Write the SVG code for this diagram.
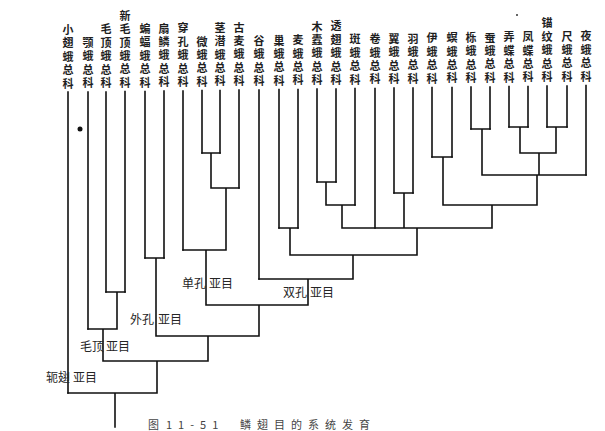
<svg xmlns="http://www.w3.org/2000/svg" width="605" height="431" viewBox="0 0 605 431">
<style>
.lf{font-family:"Noto Sans CJK SC","Noto Sans CJK TC",sans-serif;font-size:11px;font-weight:700;fill:#1e1e1e;text-anchor:middle}
.so{font-family:"Noto Sans CJK SC","Noto Sans CJK TC",sans-serif;font-size:12px;fill:#262626}
.cap{font-family:"Noto Sans CJK SC","Noto Sans CJK TC",sans-serif;font-size:11px;fill:#444}
.ln{fill:none;stroke:#111;stroke-width:1.6;stroke-linecap:square}
</style>
<rect width="605" height="431" fill="#fff"/>
<g id="connectors" class="ln">
<path d="M68 92V393M88 92V329M106 92V292M125 91.5V292M145 91.5V258M164 91V258M183 91V250M202 90.5V153M220 90.5V153M239 90V188M259 90V279M279 89.5V228M298 89.5V228M317 89V182M336 89V182M355 88.5V205M375 88.5V228M394 88V193M413 88V193M432 87.5V157M452 87.5V157M471 87V129M490 87V129M509 86.5V127M528 86.5V127M547 86V127M567 86V127M586 85.5V175"/>
<path d="M202 153H220M211 153V188M211 188H239M226 188V250M183 250H226M206 250V305M106 292H125M117 292V329M88 329H117M103 329V361M145 258H164M156 258V336M317 182H336M326 182V205M326 205H355M342 205V228M394 193H413M404 193V228M432 157H452M443 157V205M471 129H490M482 129V175M509 127H528M520 127V153M547 127H567M556 127V153M520 153H556M539 153V175M482 175H586M537 175V205M443 205H537M492 205V228M342 228H492M417 228V255M279 228H298M290 228V255M290 255H417M353 255V279M259 279H353M308 279V305M206 305H308M259 305V336M156 336H259M208 336V361M103 361H208M157 361V393M68 393H157M115 393V427"/>
</g>
<g id="n01"><text class="lf" x="68 68 68 68 68" y="33.9 47.3 60.7 74.1 87.5">小翅蛾总科</text></g>
<g id="n02"><text class="lf" x="88 88 88 88" y="47 60.4 73.8 87.2">颚蛾总科</text></g>
<g id="n03"><text class="lf" x="106 106 106 106 106" y="33.4 46.8 60.2 73.6 87">毛顶蛾总科</text></g>
<g id="n04"><text class="lf" x="125 125 125 125 125 125" y="19.7 33.1 46.5 59.9 73.3 86.7">新毛顶蛾总科</text></g>
<g id="n05"><text class="lf" x="145 145 145 145 145" y="32.9 46.3 59.7 73.1 86.5">蝙蝠蛾总科</text></g>
<g id="n06"><text class="lf" x="164 164 164 164 164" y="32.6 46 59.4 72.8 86.2">扇鳞蛾总科</text></g>
<g id="n07"><text class="lf" x="183 183 183 183 183" y="32.3 45.7 59.1 72.5 85.9">穿孔蛾总科</text></g>
<g id="n08"><text class="lf" x="202 202 202 202" y="45.5 58.9 72.3 85.7">微蛾总科</text></g>
<g id="n09"><text class="lf" x="220 220 220 220 220" y="31.8 45.2 58.6 72 85.4">茎潜蛾总科</text></g>
<g id="n10"><text class="lf" x="239 239 239 239 239" y="31.6 45 58.4 71.8 85.2">古麦蛾总科</text></g>
<g id="n11"><text class="lf" x="259 259 259 259" y="44.7 58.1 71.5 84.9">谷蛾总科</text></g>
<g id="n12"><text class="lf" x="279 279 279 279" y="44.5 57.9 71.3 84.7">巢蛾总科</text></g>
<g id="n13"><text class="lf" x="298 298 298 298" y="44.2 57.6 71 84.4">麦蛾总科</text></g>
<g id="n14"><text class="lf" x="317 317 317 317 317" y="30.5 43.9 57.3 70.7 84.1">木蠹蛾总科</text></g>
<g id="n15"><text class="lf" x="336 336 336 336 336" y="30.3 43.7 57.1 70.5 83.9">透翅蛾总科</text></g>
<g id="n16"><text class="lf" x="355 355 355 355" y="43.4 56.8 70.2 83.6">斑蛾总科</text></g>
<g id="n17"><text class="lf" x="375 375 375 375" y="43.2 56.6 70 83.4">卷蛾总科</text></g>
<g id="n18"><text class="lf" x="394 394 394 394" y="42.9 56.3 69.7 83.1">翼蛾总科</text></g>
<g id="n19"><text class="lf" x="413 413 413 413" y="42.6 56 69.4 82.8">羽蛾总科</text></g>
<g id="n20"><text class="lf" x="432 432 432 432" y="42.4 55.8 69.2 82.6">伊蛾总科</text></g>
<g id="n21"><text class="lf" x="452 452 452 452" y="42.1 55.5 68.9 82.3">螟蛾总科</text></g>
<g id="n22"><text class="lf" x="471 471 471 471" y="41.9 55.3 68.7 82.1">栎蛾总科</text></g>
<g id="n23"><text class="lf" x="490 490 490 490" y="41.6 55 68.4 81.8">蚕蛾总科</text></g>
<g id="n24"><text class="lf" x="509 509 509 509" y="41.3 54.7 68.1 81.5">弄蝶总科</text></g>
<g id="n25"><text class="lf" x="528 528 528 528" y="41.1 54.5 67.9 81.3">凤蝶总科</text></g>
<g id="n26"><text class="lf" x="547 547 547 547 547" y="27.4 40.8 54.2 67.6 81">锚纹蛾总科</text></g>
<g id="n27"><text class="lf" x="567 567 567 567" y="40.6 54 67.4 80.8">尺蛾总科</text></g>
<g id="n28"><text class="lf" x="586 586 586 586" y="40.3 53.7 67.1 80.5">夜蛾总科</text></g>
<g id="zeugloptera"><text class="so" x="46" y="381.5">轭翅</text><text class="so" x="73" y="381.5">亚目</text></g>
<g id="dacnonypha"><text class="so" x="80" y="350.5">毛顶</text><text class="so" x="106" y="350.5">亚目</text></g>
<g id="exoporia"><text class="so" x="130" y="323.5">外孔</text><text class="so" x="158" y="323.5">亚目</text></g>
<g id="monotrysia"><text class="so" x="182" y="287.5">单孔</text><text class="so" x="209" y="287.5">亚目</text></g>
<g id="ditrysia"><text class="so" x="283" y="296.5">双孔</text><text class="so" x="310" y="296.5">亚目</text></g>
<circle cx="80" cy="129" r="2.5" fill="#111"/>
<circle cx="517" cy="15" r="1" fill="#333"/>
<g id="caption"><text class="cap" x="148" y="429">图</text><text class="cap" x="166" y="429" letter-spacing="6" font-family="Liberation Sans, sans-serif">11-51</text><text class="cap" x="240" y="429" letter-spacing="6">鳞翅目的系统发育</text></g>
</svg>
